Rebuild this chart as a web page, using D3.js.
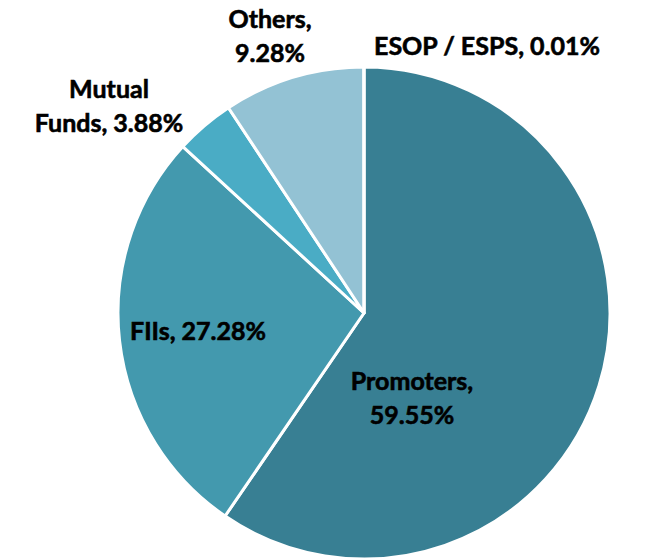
<!DOCTYPE html>
<html lang="en">
<head>
<meta charset="UTF-8">
<title>Shareholding Pattern</title>
<script src="https://cdnjs.cloudflare.com/ajax/libs/d3/7.8.5/d3.min.js"></script>
<style>
    body { margin: 0; background: #fff; }
    svg text {
        font-family: Lato, "Open Sans", sans-serif;
        font-weight: 700;
        font-size: 25px;
        fill: #000;
        stroke: #000;
        stroke-width: 0.6px;
    }
</style>
</head>
<body>
<svg id="chart" width="649" height="560"></svg>
<script>
    // shareholding data, in pie order (clockwise from 12 o'clock)
    const categories = ["Promoters", "FIIs", "Mutual Funds", "Others", "ESOP / ESPS"];
    const shares = [59.55, 27.28, 3.88, 9.28, 0.01];
    const colors = ["#387f93", "#4399ae", "#4aacc5", "#93c2d4", "#2f6e80"];
    // label lines as they wrap in the original
    const labelLines = [
        ["Promoters,", "59.55%"],
        ["FIIs, 27.28%"],
        ["Mutual", "Funds, 3.88%"],
        ["Others,", "9.28%"],
        ["ESOP / ESPS, 0.01%"]
    ];
    // label block centres, relative to pie centre
    const labelOffsets = [[48, 85], [-166, 18], [-255, -207], [-94, -277], [123, -267]];

    const cx = 364, cy = 313, radius = 246;
    const lineHeight = 34;

    const svg = d3.select("#chart");
    const g = svg.append("g").attr("transform", `translate(${cx},${cy})`);

    const data = categories.map((c, i) => ({ name: c, value: shares[i], i }));
    const pie = d3.pie().value(d => d.value).sort(null);
    const arc = d3.arc().innerRadius(0).outerRadius(radius);

    g.selectAll("path")
        .data(pie(data))
        .join("path")
        .attr("d", arc)
        .attr("fill", d => colors[d.data.i])
        .attr("stroke", "#fff")
        .attr("stroke-width", 3)
        .attr("stroke-linejoin", "round");

    const labels = g.selectAll("text.label")
        .data(data)
        .join("text")
        .attr("class", "label")
        .attr("text-anchor", "middle");

    labels.each(function(d) {
        const lines = labelLines[d.i];
        const [dx, dy] = labelOffsets[d.i];
        const t = d3.select(this);
        lines.forEach((line, k) => {
            t.append("tspan")
                .attr("x", dx)
                .attr("y", dy + (k - (lines.length - 1) / 2) * lineHeight + 9)
                .text(line);
        });
    });
</script>
</body>
</html>
